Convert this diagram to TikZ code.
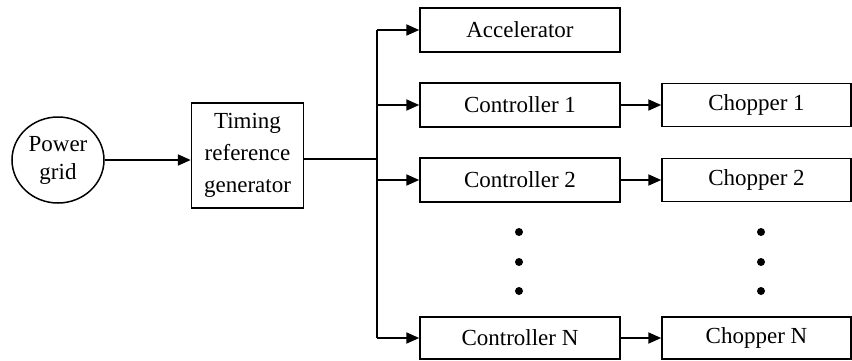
\documentclass[tikz,border=0pt]{standalone}
\usepackage{fontspec}
\setmainfont{Liberation Serif}
\usetikzlibrary{arrows.meta,shapes.geometric}
\begin{document}
\begin{tikzpicture}[x=1pt,y=-1pt,
  font=\fontsize{23}{32}\selectfont,
  blk/.style={draw,line width=1.5pt,inner sep=0pt,anchor=center,align=center},
  ctrl/.style={blk,minimum width=200pt,minimum height=44pt},
  chop/.style={blk,minimum width=189pt,minimum height=43pt},
  arr/.style={line width=2pt,-{Triangle[length=13pt,width=11pt]}},
  wire/.style={line width=2pt},
  dotm/.style={circle,fill,inner sep=0pt,minimum size=8pt}]
\useasboundingbox (0,0) rectangle (852,360);
\node[blk,ellipse,minimum width=92pt,minimum height=86pt,align=center] (pg) at (58,160) {Power\\[-4pt]grid};
\node[blk,minimum width=112pt,minimum height=105pt] (trg) at (247.5,155.5) {Timing\\reference\\generator};
\node[ctrl] (acc) at (520,30) {Accelerator};
\node[ctrl] (c1) at (520,105) {Controller 1};
\node[ctrl] (c2) at (520,180) {Controller 2};
\node[ctrl,minimum height=42pt] (cn) at (520,338) {Controller N};
\node[chop] (h1) at (756.5,105) {Chopper 1};
\node[chop] (h2) at (756.5,180) {Chopper 2};
\node[chop,minimum height=42pt] (hn) at (756.5,338) {Chopper N};
\node[dotm] (d1) at (519,232) {};
\node[dotm] (d2) at (519,262) {};
\node[dotm] (d3) at (519,291) {};
\node[dotm] (e1) at (761,232) {};
\node[dotm] (e2) at (761,262) {};
\node[dotm] (e3) at (761,291) {};
\coordinate (bt) at (377,30);
\coordinate (bb) at (377,338);
\coordinate (bm) at (377,159);
\draw[arr] (pg.east) -- (trg.west |- pg.east);
\draw[line width=1.3pt] (trg.east |- bm) -- (bm);
\draw[wire] (bt) -- (bb);
\draw[arr] (bt) -- (acc.west);
\draw[arr] (bt |- c1.west) -- (c1.west);
\draw[arr] (bt |- c2.west) -- (c2.west);
\draw[arr] (bb) -- (cn.west);
\draw[arr] (c1.east) -- (h1.west);
\draw[arr] (c2.east) -- (h2.west);
\draw[arr] (cn.east) -- (hn.west);
\end{tikzpicture}
\end{document}
